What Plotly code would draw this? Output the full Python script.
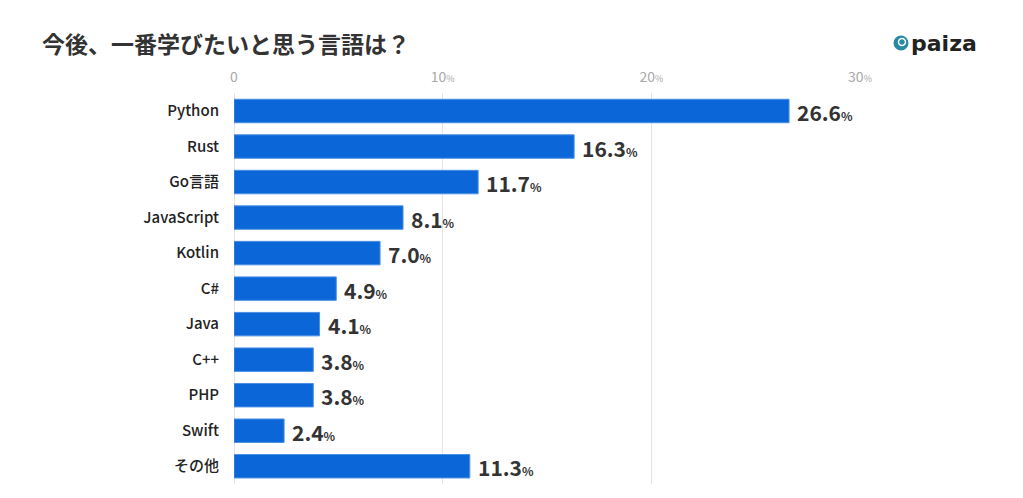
import plotly.graph_objects as go

categories = ["Python", "Rust", "Go言語", "JavaScript", "Kotlin", "C#", "Java", "C++", "PHP", "Swift", "その他"]
values = [26.6, 16.3, 11.7, 8.1, 7.0, 4.9, 4.1, 3.8, 3.8, 2.4, 11.3]
tick_vals = [0, 10, 20, 30]
tick_labels = ["0", "10<span style='font-size:9px'>%</span>", "20<span style='font-size:9px'>%</span>", "30<span style='font-size:9px'>%</span>"]
title_text = "今後、一番学びたいと思う言語は？"

FONT = "Noto Sans CJK JP"
W, H = 1023, 498
OFF = 8  # page body margin
ML, MR, MT, MB = 234 - OFF, 1023 - 860 + OFF, 93 - OFF, 498 - 484 + OFF
PW, PH = W - ML - MR, H - MT - MB

def px_to_paper(px, py):
    return (px - OFF - ML) / PW, (H - MB - (py - OFF)) / PH

fig = go.Figure()
fig.add_trace(go.Bar(
    x=values, y=categories, orientation="h",
    marker=dict(color="#0b67d8", line=dict(color="#4a8fe3", width=1)),
    width=0.66, hoverinfo="skip",
))

for c, v in zip(categories, values):
    fig.add_annotation(
        x=v, y=c, xref="x", yref="y",
        text=f"<b>{v:.1f}</b><span style='font-size:12px'><b>%</b></span>",
        showarrow=False, xanchor="left", yanchor="middle", xshift=6, yshift=-1,
        font=dict(family=FONT, size=21, color="#333333"),
    )

# logo
cx, cy = px_to_paper(901, 43)
rx, ry = 7.5 / PW, 7.5 / PH
fig.add_shape(type="circle", xref="paper", yref="paper",
              x0=cx - rx, x1=cx + rx, y0=cy - ry, y1=cy + ry,
              fillcolor="#2b8aa3", line=dict(width=0))
ix, iy = px_to_paper(902, 42)
rx2, ry2 = 3.5 / PW, 3.5 / PH
fig.add_shape(type="circle", xref="paper", yref="paper",
              x0=ix - rx2, x1=ix + rx2, y0=iy - ry2, y1=iy + ry2,
              fillcolor="rgba(0,0,0,0)", line=dict(color="white", width=1.5))
tx, ty = px_to_paper(909, 43)
fig.add_annotation(
    xref="paper", yref="paper", x=tx, y=ty,
    text="<b>paiza</b>", showarrow=False, xanchor="left", yanchor="middle",
    font=dict(family="DejaVu Sans", size=22, color="#222222"),
)

fig.update_layout(
    width=W, height=H,
    margin=dict(l=ML, r=MR, t=MT, b=MB, pad=0),
    paper_bgcolor="white", plot_bgcolor="white",
    showlegend=False,
    title=dict(text=f"<b>{title_text}</b>", xref="container", yref="container",
               x=(42 - OFF) / W, y=1 - (45 - OFF) / H, xanchor="left", yanchor="middle",
               font=dict(family=FONT, size=23, color="#333333")),
    xaxis=dict(range=[0, 30], side="top", tickvals=tick_vals, ticktext=tick_labels,
               showgrid=True, gridcolor="#e4e4e4", gridwidth=1, zeroline=True,
               zerolinecolor="#e4e4e4", zerolinewidth=1, showline=False, ticks="",
               ticklabelstandoff=7,
               tickfont=dict(family=FONT, size=14, color="#a8a8a8"), fixedrange=True),
    yaxis=dict(autorange="reversed", showgrid=False, ticks="", showline=False,
               ticklabelstandoff=14,
               tickfont=dict(family=FONT, size=15, color="#222222", weight=500), fixedrange=True),
)

fig.write_html("out.html")
